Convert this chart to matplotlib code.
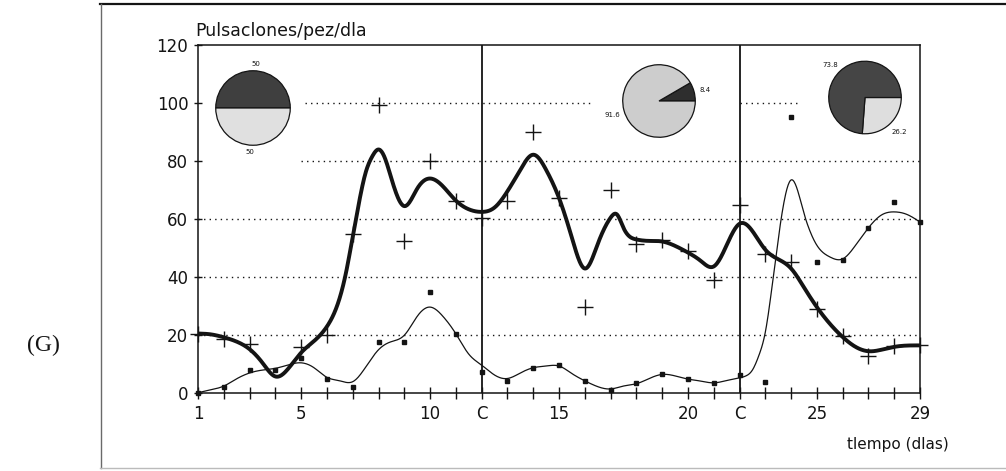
import numpy as np
import matplotlib
matplotlib.use("Agg")
import matplotlib.pyplot as plt
from matplotlib.lines import Line2D

# ---------------- data ----------------
days = list(range(1, 30))
# "+" markers (thick curve series); no marker visible on day 4
plus_vals = [20.5, 18.8, 17.1, np.nan, 16.0, 20.0, 54.8, 99.3, 52.5, 80.2,
             66.4, 60.5, 66.4, 90.0, 67.3, 29.7, 70.2, 51.4, 52.7, 49.1,
             39.0, 65.0, 47.9, 45.1, 29.1, 19.7, 12.8, 16.2, 16.5]
# small square markers (thin curve series)
square_vals = [0.2, 2.3, 8.0, 8.0, 12.0, 5.0, 2.3, 17.7, 17.7, 34.8,
               20.5, 7.4, 4.3, 8.8, 9.7, 4.3, 1.1, 3.4, 6.8, 4.9,
               3.4, 6.3, 4.0, 95.3, 45.1, 46.0, 57.0, 66.0, 59.1]

# smoothed fitted curves
fit_thick_days = [1, 1.5, 2, 2.5, 3, 3.5, 4, 4.5, 5, 5.5, 6, 6.5, 6.75, 7, 7.25,
                  7.5, 7.75, 8, 8.25, 8.5, 8.75, 9, 9.5, 10, 10.5, 11, 11.5, 12,
                  12.5, 13, 13.5, 14, 14.5, 15, 15.5, 16, 16.5, 17, 17.25, 17.5,
                  18, 18.5, 19, 19.5, 20, 20.5, 21, 21.5, 22, 22.5, 23, 23.5, 24,
                  24.5, 25, 25.5, 26, 26.5, 27, 27.5, 28, 29]
fit_thick_vals = [20.6, 20.3, 19.3, 17.8, 15.2, 10.5, 5.8, 8.5, 14.0, 18.0, 23.0,
                  33.0, 42.0, 54.0, 66.0, 76.0, 81.5, 84.0, 81.0, 74.0, 67.5, 64.5,
                  70.5, 74.0, 71.3, 66.4, 63.4, 62.5, 64.0, 69.6, 77.0, 82.2, 77.0,
                  67.3, 53.6, 43.0, 51.4, 60.5, 61.6, 57.0, 53.0, 52.5, 52.3, 50.8,
                  48.5, 45.6, 43.7, 51.0, 58.4, 55.9, 49.5, 46.2, 43.0, 36.5, 29.7,
                  24.0, 19.4, 16.0, 14.5, 15.0, 16.0, 16.5]
fit_thin_days = [1, 1.5, 2, 2.5, 3, 3.5, 4, 4.5, 5, 5.5, 6, 6.5, 7, 7.5, 8, 8.5, 9,
                 9.5, 10, 10.5, 11, 11.5, 12, 12.5, 13, 13.5, 14, 14.5, 15, 15.5,
                 16, 16.5, 17, 17.5, 18, 18.5, 19, 19.5, 20, 20.5, 21, 21.5, 22,
                 22.25, 22.5, 22.75, 23, 23.25, 23.5, 23.75, 24, 24.25, 24.5,
                 24.75, 25, 25.5, 26, 26.5, 27, 27.5, 28, 28.5, 29]
fit_thin_vals = [0.2, 1.2, 2.5, 5.0, 7.0, 8.0, 8.6, 9.8, 10.5, 8.8, 5.5, 4.3, 4.0,
                 9.0, 15.0, 17.8, 20.0, 26.5, 29.7, 26.5, 20.5, 13.5, 9.7, 6.3,
                 5.1, 7.0, 8.8, 9.4, 9.4, 6.8, 4.3, 2.3, 1.5, 2.5, 3.3, 5.1, 6.5,
                 6.0, 4.9, 4.2, 3.6, 4.4, 5.3, 6.0, 8.0, 13.0, 21.0, 36.0, 53.0,
                 67.0, 73.5, 70.0, 62.0, 55.5, 51.0, 47.0, 46.3, 51.0, 57.0, 61.4,
                 62.5, 61.6, 59.0]

x_tick_labels = {1: "1", 5: "5", 10: "10", 12: "C", 15: "15", 20: "20",
                 22: "C", 25: "25", 29: "29"}
y_ticks = [0, 20, 40, 60, 80, 100, 120]
control_days = [12, 22]

pie1_vals = [50, 50]
pie1_labels = ["50", "50"]
pie2_vals = [8.4, 91.6]
pie2_labels = ["8.4", "91.6"]
pie3_vals = [26.2, 73.8]
pie3_labels = ["26.2", "73.8"]


def natural_spline(x, y, xs):
    x = np.asarray(x, float)
    y = np.asarray(y, float)
    n = len(x)
    h = np.diff(x)
    A = np.zeros((n, n))
    b = np.zeros(n)
    A[0, 0] = 1
    A[-1, -1] = 1
    for i in range(1, n - 1):
        A[i, i - 1] = h[i - 1]
        A[i, i] = 2 * (h[i - 1] + h[i])
        A[i, i + 1] = h[i]
        b[i] = 3 * ((y[i + 1] - y[i]) / h[i] - (y[i] - y[i - 1]) / h[i - 1])
    c = np.linalg.solve(A, b)
    bc = (y[1:] - y[:-1]) / h - h * (2 * c[:-1] + c[1:]) / 3
    d = (c[1:] - c[:-1]) / (3 * h)
    idx = np.clip(np.searchsorted(x, xs) - 1, 0, n - 2)
    dx = xs - x[idx]
    return y[idx] + bc[idx] * dx + c[idx] * dx ** 2 + d[idx] * dx ** 3


# ---------------- figure ----------------
W, H = 1006, 471
plt.rcParams["font.family"] = ["DejaVu Sans"]
fig = plt.figure(figsize=(W / 100, H / 100), dpi=100)
fig.patch.set_facecolor("white")

ink = "#141414"

# outer frame of the scanned figure
fig.add_artist(Line2D([100 / W, 1.0], [1 - 3.5 / H, 1 - 3.5 / H], color=ink, lw=1.6))
fig.add_artist(Line2D([100.5 / W, 100.5 / W], [1 - 3.5 / H, 1 - 468 / H], color="#6a6a6a", lw=1.0))
fig.add_artist(Line2D([100 / W, 1.0], [1 - 468 / H, 1 - 468 / H], color="#bbbbbb", lw=1.0))

ax_left, ax_right, ax_top, ax_bottom = 198, 920, 45, 393.3
ax = fig.add_axes([ax_left / W, 1 - ax_bottom / H, (ax_right - ax_left) / W,
                   (ax_bottom - ax_top) / H])
ax.set_xlim(1, 29)
ax.set_ylim(0, 120)
for s in ax.spines.values():
    s.set_color(ink)
    s.set_linewidth(1.1)

# dotted reference lines
dot = dict(color=ink, lw=1.0, linestyle=(0, (1, 3)))
for yv in (20, 40, 60):
    ax.hlines(yv, 1, 29, **dot)
ax.hlines(80, 5.0, 29, **dot)
ax.hlines(100, 5.15, 16.25, **dot)
ax.hlines(100, 22, 24.3, **dot)

for cd in control_days:
    ax.axvline(cd, color=ink, lw=1.3)

xs = np.linspace(1, 29, 1200)
ax.plot(xs, natural_spline(fit_thick_days, fit_thick_vals, xs), color=ink, lw=2.8,
        solid_capstyle="round", zorder=4)
ax.plot(xs, natural_spline(fit_thin_days, fit_thin_vals, xs), color=ink, lw=0.9,
        zorder=4)
ax.plot(days, plus_vals, linestyle="none", marker="+", markersize=11.5, mew=1.0,
        color=ink, clip_on=False, zorder=5)
ax.plot(days, square_vals, linestyle="none", marker="s", markersize=3.2,
        color=ink, clip_on=False, zorder=5)

ax.set_xticks(days)
ax.set_xticklabels([x_tick_labels.get(d, "") for d in days])
ax.set_yticks(y_ticks)
ax.set_yticklabels([str(v) for v in y_ticks])
ax.tick_params(axis="x", direction="inout", length=9, width=1.0, pad=4,
               labelsize=12, colors=ink)
ax.tick_params(axis="y", direction="inout", length=6, width=1.0, pad=4,
               labelsize=12, colors=ink)

# titles
fig.text(195 / W, 1 - 31.5 / H, "Pulsaclones/pez/dla", ha="left", va="center",
         fontsize=12.5, color=ink)
fig.text(898 / W, 1 - 445 / H, "tlempo (dlas)", ha="center", va="center",
         fontsize=11, color=ink)
fig.text(43 / W, 1 - 345 / H, "(G)", ha="center", va="center", fontsize=17,
         family=["Liberation Serif", "DejaVu Serif"], color=ink)


# pies
def add_pie(cx, cy, r, vals, colors, counterclock=True):
    pax = fig.add_axes([(cx - r) / W, 1 - (cy + r) / H, 2 * r / W, 2 * r / H])
    pax.pie(vals, colors=colors, startangle=0, counterclock=counterclock,
            radius=1.0, wedgeprops=dict(edgecolor=ink, linewidth=0.9))
    pax.set_xlim(-1.02, 1.02)
    pax.set_ylim(-1.02, 1.02)
    pax.set_aspect("auto")
    pax.axis("off")
    return pax


add_pie(253, 108, 38, pie1_vals, ["#3f3f3f", "#e0e0e0"])
fig.text(256 / W, 1 - 64 / H, pie1_labels[0], ha="center", va="center", fontsize=5, color=ink)
fig.text(250 / W, 1 - 152 / H, pie1_labels[1], ha="center", va="center", fontsize=5, color=ink)

add_pie(659, 101, 37, pie2_vals, ["#2e2e2e", "#cdcdcd"])
fig.text(699 / W, 1 - 90 / H, pie2_labels[0], ha="left", va="center", fontsize=5, color=ink)
fig.text(620 / W, 1 - 115 / H, pie2_labels[1], ha="right", va="center", fontsize=5, color=ink)

add_pie(865, 97.5, 37, pie3_vals, ["#dedede", "#454545"], counterclock=False)
fig.text(899 / W, 1 - 132 / H, pie3_labels[0], ha="center", va="center", fontsize=5, color=ink)
fig.text(830 / W, 1 - 65 / H, pie3_labels[1], ha="center", va="center", fontsize=5, color=ink)

fig.savefig("out.png", dpi=100, facecolor="white")
